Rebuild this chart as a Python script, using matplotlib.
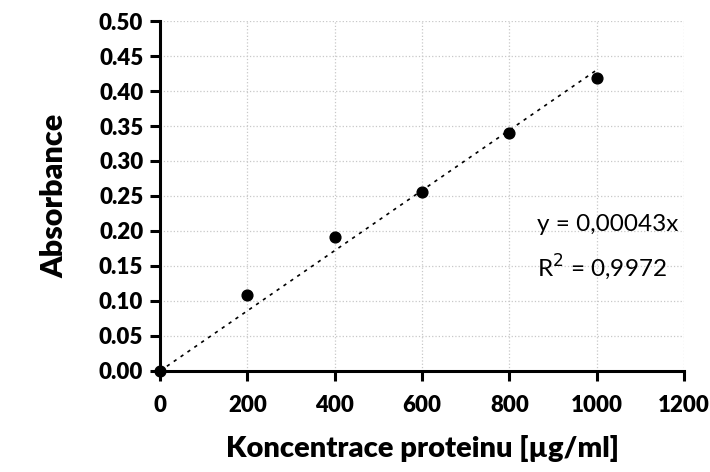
import matplotlib.pyplot as plt
import numpy as np

plt.rcParams['font.family'] = ['Lato', 'DejaVu Sans']

konc = [0, 200, 400, 600, 800, 1000]
absorb = [0.0, 0.108, 0.192, 0.256, 0.340, 0.419]
slope = 0.00043
fit_x = [0, 1000]

fig = plt.figure(figsize=(7.1, 4.72), dpi=100)
ax = fig.add_axes([0.2254, 0.214, 0.738, 0.7415])

ax.grid(True, linestyle=':', color='#c8c8c8', linewidth=0.9)
ax.set_axisbelow(True)
ax.plot(fit_x, [slope * v for v in fit_x], linestyle=(0, (2, 3)), color='black', linewidth=1.2, zorder=2)
ax.scatter(konc, absorb, s=60, color='black', zorder=3, clip_on=False)

ax.set_xlim(0, 1200)
ax.set_ylim(0, 0.5)
ax.set_xticks(np.arange(0, 1201, 200))
ax.set_yticks(np.arange(0, 0.501, 0.05))
ax.set_yticklabels([f'{v:.2f}' for v in np.arange(0, 0.501, 0.05)])

for s in ['top', 'right']:
    ax.spines[s].set_visible(False)
for s in ['left', 'bottom']:
    ax.spines[s].set_linewidth(2.2)
ax.tick_params(direction='out', length=7, width=2.2, labelsize=16, pad=5)
ax.tick_params(axis='x', pad=10)
for lab in ax.get_xticklabels() + ax.get_yticklabels():
    lab.set_fontweight('heavy')

ax.set_xlabel('Koncentrace proteinu [µg/ml]', fontsize=21, fontweight='heavy', labelpad=14)
ax.set_ylabel('Absorbance', fontsize=22, fontweight='heavy', labelpad=22)

ax.text(863, 0.2086, 'y = 0,00043x', fontsize=17.5, ha='left', va='center')
ax.text(863, 0.1486, 'R$^{2}$ = 0,9972', fontsize=17.5, ha='left', va='center')

fig.savefig('out.png', dpi=100)
